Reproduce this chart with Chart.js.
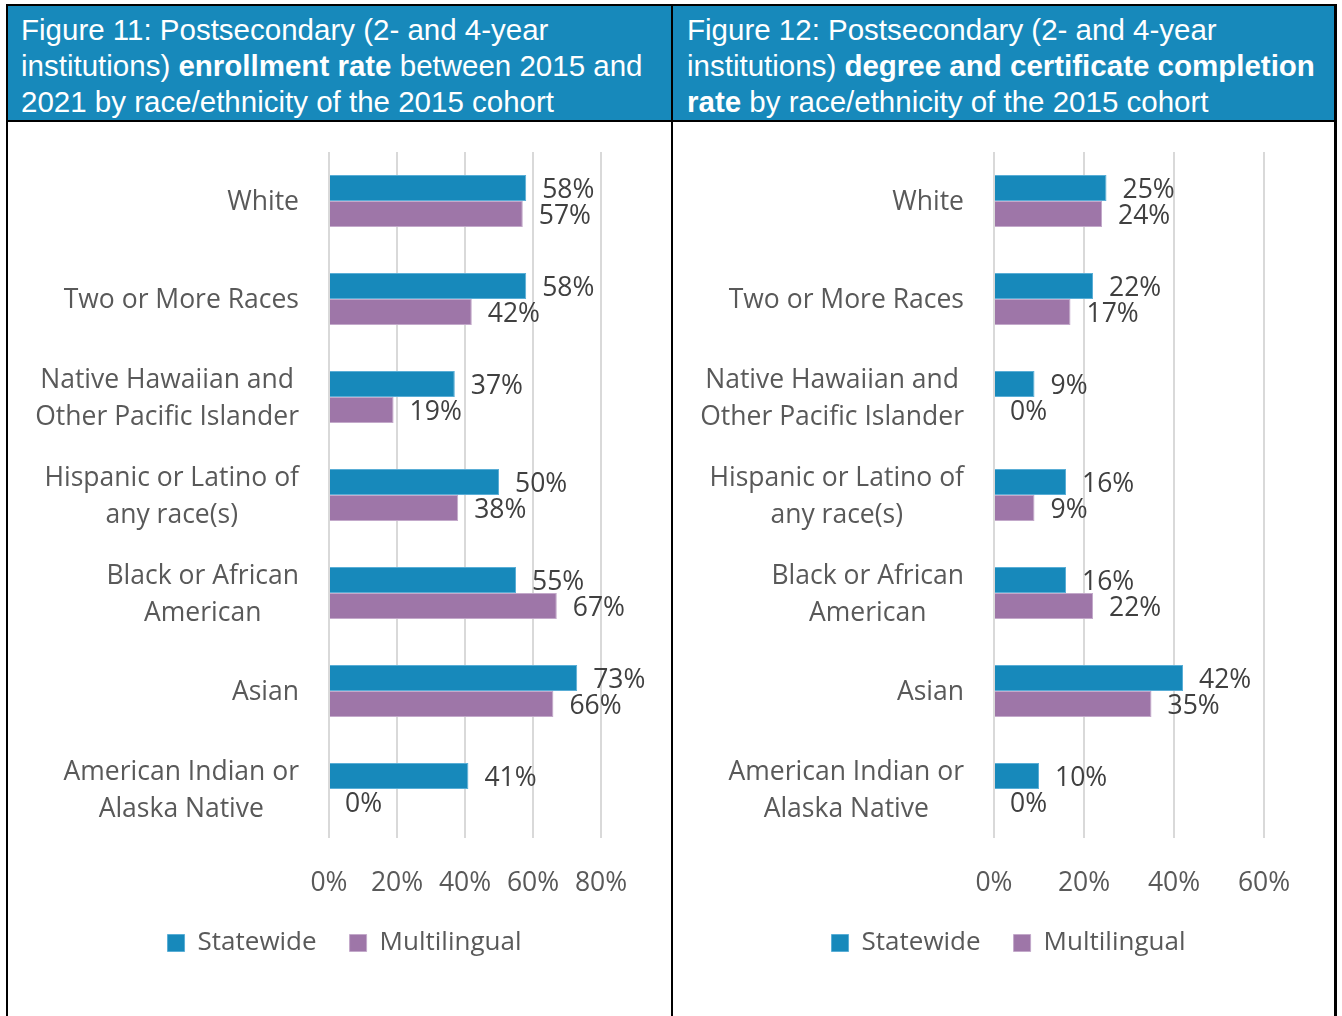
<!DOCTYPE html>
<html>
<head>
<meta charset="utf-8">
<script src="https://cdn.jsdelivr.net/npm/chart.js@4.4.1/dist/chart.umd.min.js"></script>
<style>
  body { margin: 0; background: #fff; overflow: hidden; }
  .frame { position: absolute; left: 6px; top: 4px; width: 1331px; height: 1100px; background: #000; }
  .cell { position: absolute; }
  .hdr { background: #1789bb; color: #fff; font-family: "Liberation Sans", Arial, sans-serif;
         font-size: 29.5px; line-height: 36px; padding: 6px 0 0 13px; box-sizing: border-box; white-space: nowrap; }
  .body { background: #fff; }
</style>
</head>
<body>
<div class="frame">
  <div class="cell hdr" style="left:2px;top:2px;width:663px;height:114px">
    Figure 11: Postsecondary (2- and 4-year<br>institutions) <b>enrollment rate</b> between 2015 and<br>2021 by race/ethnicity of the 2015 cohort
  </div>
  <div class="cell hdr" style="left:667px;top:2px;width:661px;height:114px;padding-left:14px">
    Figure 12: Postsecondary (2- and 4-year<br>institutions) <b>degree and certificate completion</b><br><b>rate</b> by race/ethnicity of the 2015 cohort
  </div>
  <div class="cell body" style="left:2px;top:118px;width:663px;height:1000px">
    <canvas id="enrollChart" width="663" height="894"></canvas>
  </div>
  <div class="cell body" style="left:667px;top:118px;width:661px;height:1000px">
    <canvas id="completeChart" width="661" height="894"></canvas>
  </div>
</div>
<script>
(() => {
  'use strict'

  const categories = [
    ['White'],
    ['Two or More Races'],
    ['Native Hawaiian and', 'Other Pacific Islander'],
    ['Hispanic or Latino of', 'any race(s)'],
    ['Black or African', 'American'],
    ['Asian'],
    ['American Indian or', 'Alaska Native']
  ]
  const seriesNames = ['Statewide', 'Multilingual']

  // Figure 11: enrollment rate (%)
  const enrollStatewide = [58, 58, 37, 50, 55, 73, 41]
  const enrollMultilingual = [57, 42, 19, 38, 67, 66, 0]
  const enrollTicks = [0, 20, 40, 60, 80]

  // Figure 12: completion rate (%)
  const completeStatewide = [25, 22, 9, 16, 16, 42, 10]
  const completeMultilingual = [24, 17, 0, 9, 22, 35, 0]
  const completeTicks = [0, 20, 40, 60]

  const FONT = '"Open Sans", "Noto Sans", sans-serif'
  const BLUE = '#1789bb'
  const PURPLE = '#9e76a8'

  // category labels: right-aligned block, lines centred within it
  const categoryLabels = {
    id: 'categoryLabels',
    afterDraw (chart) {
      const { ctx, chartArea } = chart
      const y = chart.scales.y
      const right = chartArea.left - 30
      ctx.save()
      ctx.font = '26.5px ' + FONT
      ctx.fillStyle = '#595959'
      ctx.textAlign = 'center'
      ctx.textBaseline = 'middle'
      chart.data.labels.forEach((lines, i) => {
        const w = Math.max(...lines.map(l => ctx.measureText(l).width))
        const cy = y.getPixelForValue(i) + 1.5
        const lh = 37
        lines.forEach((l, j) => {
          ctx.fillText(l, right - w / 2, cy + (j - (lines.length - 1) / 2) * lh)
        })
      })
      ctx.restore()
    }
  }

  const valueLabels = {
    id: 'valueLabels',
    afterDatasetsDraw (chart) {
      const { ctx } = chart
      ctx.save()
      ctx.font = '26.5px ' + FONT
      ctx.fillStyle = '#404040'
      ctx.textAlign = 'left'
      ctx.textBaseline = 'middle'
      chart.data.datasets.forEach((ds, di) => {
        chart.getDatasetMeta(di).data.forEach((bar, i) => {
          ctx.fillText(ds.data[i] + '%', bar.x + 16, bar.y + 2.5)
        })
      })
      ctx.restore()
    }
  }

  function makeChart (id, statewide, multilingual, ticks) {
    return new Chart(document.getElementById(id), {
      type: 'bar',
      data: {
        labels: categories,
        datasets: [
          {
            label: seriesNames[0],
            data: statewide,
            backgroundColor: BLUE,
            borderColor: '#5aaed6',
            borderWidth: 1,
            categoryPercentage: 0.53,
            barPercentage: 1
          },
          {
            label: seriesNames[1],
            data: multilingual,
            backgroundColor: PURPLE,
            borderColor: '#c3a9ca',
            borderWidth: 1,
            categoryPercentage: 0.53,
            barPercentage: 1
          }
        ]
      },
      options: {
        indexAxis: 'y',
        responsive: false,
        animation: false,
        layout: { padding: { top: 30, left: 80, right: 70, bottom: 50 } },
        plugins: {
          legend: {
            position: 'bottom',
            labels: {
              boxWidth: 17,
              boxHeight: 17,
              padding: 33,
              color: '#595959',
              font: { family: FONT, size: 26 }
            }
          },
          tooltip: { enabled: false }
        },
        scales: {
          x: {
            min: ticks[0],
            max: ticks[ticks.length - 1],
            afterBuildTicks: (scale) => { scale.ticks = ticks.map(v => ({ value: v })) },
            afterFit: (scale) => { scale.height = 59 },
            border: { display: false },
            grid: { color: '#d9d9d9', lineWidth: 2, drawTicks: false },
            ticks: {
              padding: 30,
              color: '#595959',
              font: { family: FONT, size: 26.5 },
              callback: (v) => v + '%'
            }
          },
          y: {
            afterFit: (scale) => { scale.width = 241 },
            border: { display: false },
            grid: { display: false },
            ticks: { display: false }
          }
        }
      },
      plugins: [categoryLabels, valueLabels]
    })
  }

  makeChart('enrollChart', enrollStatewide, enrollMultilingual, enrollTicks)
  makeChart('completeChart', completeStatewide, completeMultilingual, completeTicks)
})()
</script>
</body>
</html>
